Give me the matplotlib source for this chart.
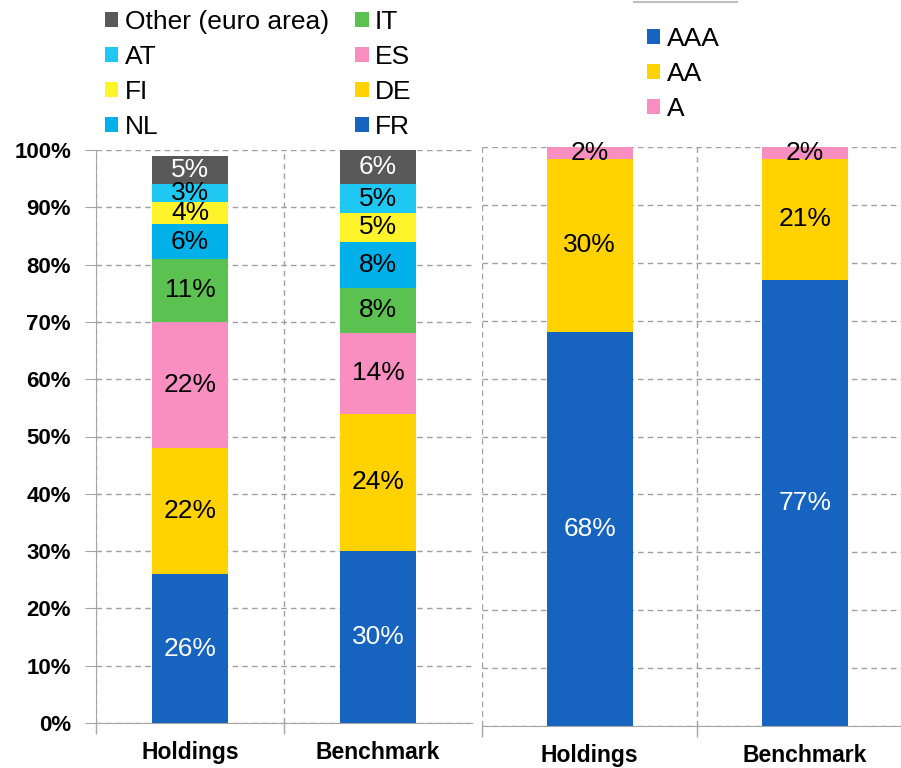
import matplotlib
matplotlib.use("Agg")
import matplotlib.pyplot as plt
from matplotlib.lines import Line2D
import numpy as np

plt.rcParams["font.family"] = ["Liberation Sans", "DejaVu Sans"]

categories = ["Holdings", "Benchmark"]

# country breakdown (bottom to top)
countries = ["FR", "DE", "ES", "IT", "NL", "FI", "AT", "Other (euro area)"]
country_values = {
    "FR": [26, 30],
    "DE": [22, 24],
    "ES": [22, 14],
    "IT": [11, 8],
    "NL": [6, 8],
    "FI": [4, 5],
    "AT": [3, 5],
    "Other (euro area)": [5, 6],
}
country_colors = {
    "FR": "#1664C0",
    "DE": "#FFD200",
    "ES": "#F98EC0",
    "IT": "#5BC150",
    "NL": "#00B0E8",
    "FI": "#FFF42A",
    "AT": "#1EC8F2",
    "Other (euro area)": "#595959",
}

# rating breakdown (bottom to top)
ratings = ["AAA", "AA", "A"]
rating_values = {
    "AAA": [68, 77],
    "AA": [30, 21],
    "A": [2, 2],
}
rating_colors = {"AAA": "#1664C0", "AA": "#FFD200", "A": "#F98EC0"}

white_text = {"FR", "Other (euro area)", "AAA"}
y_ticks = np.arange(0, 101, 10)

W, H = 901, 768
fig = plt.figure(figsize=(W / 100, H / 100), dpi=100)

def px_axes(x0, x1, ytop, ybot):
    return fig.add_axes([x0 / W, 1 - ybot / H, (x1 - x0) / W, (ybot - ytop) / H])

ax_c = px_axes(96, 472, 150, 723)
ax_r = px_axes(482, 912.5, 147, 726)

grid_kw = dict(color="#A0A0A0", linestyle=(0, (4, 3)), linewidth=1.0)
spine_color = "#A6A6A6"


def stack(ax, names, values, colors):
    x = np.arange(len(categories))
    bottom = np.zeros(len(categories))
    handles = {}
    for name in names:
        vals = np.asarray(values[name], dtype=float)
        bars = ax.bar(x, vals, 0.4, bottom=bottom, color=colors[name], linewidth=0, zorder=2)
        handles[name] = bars
        for xi, v, b in zip(x, vals, bottom):
            ax.text(xi, b + v / 2, f"{v:.0f}%", ha="center", va="center", fontsize=19,
                    color="white" if name in white_text else "black", zorder=3)
        bottom = bottom + vals
    return handles


def style(ax, boundaries):
    ax.set_xlim(-0.5, 1.5)
    ax.set_ylim(0, 100)
    ax.set_xticks(np.arange(len(categories)))
    ax.set_xticklabels(categories, fontsize=16.5, fontweight="bold")
    ax.set_xticks(boundaries, minor=True)
    ax.tick_params(axis="x", which="major", length=0, pad=13)
    ax.tick_params(axis="x", which="minor", length=8, color=spine_color, width=1)
    ax.set_yticks(y_ticks)
    ax.grid(axis="y", which="major", **grid_kw)
    ax.grid(axis="x", which="minor", **grid_kw)
    ax.set_axisbelow(True)
    for side in ["top", "right"]:
        ax.spines[side].set_visible(False)
    ax.spines["bottom"].set_color(spine_color)
    ax.spines["left"].set_color(spine_color)


c_handles = stack(ax_c, countries, country_values, country_colors)
style(ax_c, [-0.5, 0.5])
ax_c.set_yticklabels([f"{v}%" for v in y_ticks], fontsize=16, fontweight="bold")
ax_c.tick_params(axis="y", length=8, color=spine_color, pad=10)

r_handles = stack(ax_r, ratings, rating_values, rating_colors)
style(ax_r, [-0.5, 0.5, 1.5])
ax_r.spines["left"].set_visible(False)
ax_r.tick_params(axis="y", length=0, labelleft=False)

leg_kw = dict(frameon=False, fontsize=19, handlelength=0.5, handleheight=0.5,
              handletextpad=0.25, labelspacing=0.42, borderpad=0, borderaxespad=0)

order = countries[::-1]
fig.legend([c_handles[n] for n in order], order, loc="upper left", ncol=2,
           columnspacing=1.0, bbox_to_anchor=(105 / W, 1 - 10 / H), **leg_kw)

fig.legend([r_handles[n] for n in ratings], ratings, loc="upper left",
           bbox_to_anchor=(647 / W, 1 - 27 / H), **leg_kw)

fig.add_artist(Line2D([634 / W, 737 / W], [1 - 2 / H, 1 - 2 / H], color="#BDBDBD", linewidth=1.5))

fig.savefig("out.png", dpi=100)
